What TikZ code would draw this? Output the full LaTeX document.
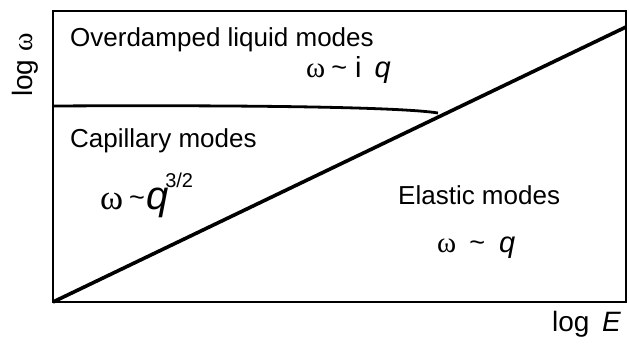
\documentclass[tikz,border=0pt]{standalone}
\usepackage{fontspec}
\setmainfont{Liberation Sans}
\newfontfamily\greekfont{Liberation Serif}
\usetikzlibrary{positioning,calc}
\definecolor{ink}{RGB}{0,0,0}
\newcommand{\om}{{\greekfont ω}}
\newcommand{\tld}{\raisebox{1pt}{\fontsize{27}{30}\selectfont\textasciitilde}}
\tikzset{
	frame/.style={draw=ink,line width=2pt},
	elasticline/.style={draw=ink,line width=3.6pt},
	crossover/.style={draw=ink,line width=2.8pt},
	regime/.style={anchor=base west,inner sep=0pt,text=ink,
		font=\fontsize{26}{30}\selectfont},
	law/.style={anchor=base west,inner sep=0pt,text=ink,
		font=\fontsize{29}{32}\selectfont},
	axislabel/.style={anchor=base west,inner sep=0pt,text=ink,
		font=\fontsize{28}{32}\selectfont},
}

\begin{document}
\begin{tikzpicture}[x=1pt,y=1pt]
	\useasboundingbox (0,0) rectangle (629,344);
	
	\coordinate (sw) at (53,42);
	\coordinate (ne) at (626,333);
	\coordinate (elastictop) at (626,317);
	\coordinate (capstart) at (53,238);
	\coordinate (capend) at (438,231);
	
	\draw[frame] (sw) rectangle (ne);
	
	% boundary between capillary and overdamped regime
	\draw[crossover] (capstart) .. controls (250,239) and (400,237) .. (capend);
	\draw[elasticline] (sw) -- (elastictop);
	
	\node[regime] (overdamped) at (70,297) {Overdamped liquid modes};
	\node[law] (overdamplaw) at (306,266)
	{\om\hspace{6pt}\tld\hspace{8pt}i\hspace{13pt}\textit{q}};
	
	\node[regime] (capillary) at (70,196) {Capillary modes};
	\node[law,font=\fontsize{35}{40}\selectfont] (capillarylaw) at (100,134)
	{\om\hspace{6pt}\raisebox{2pt}{\tld}\hspace{1pt}%
		{\fontsize{40}{44}\selectfont\textit{q}}%
		\hspace{-3pt}\raisebox{22pt}{\fontsize{20}{24}\selectfont 3/2}};
	
	\node[regime] (elastic) at (398,139) {Elastic modes};
	\node[law] (elasticlaw) at (437,91)
	{\om\hspace{13pt}\tld\hspace{14pt}\textit{q}};
	
	\node[axislabel] (xlabel) at (552,12) {log \,\textit{E}};
	\node[axislabel,rotate=90] (ylabel) at (32,247) {log \om};
	
\end{tikzpicture}
\end{document}
